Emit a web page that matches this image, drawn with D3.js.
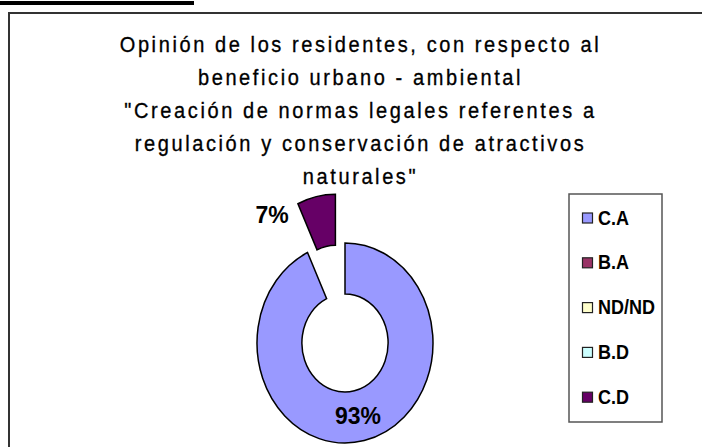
<!DOCTYPE html>
<html>
<head>
<meta charset="utf-8">
<script src="https://cdn.jsdelivr.net/npm/d3@7"></script>
<style>
  body { margin: 0; background: #fff; }
  svg { display: block; }
</style>
</head>
<body>
<svg id="chart" width="702" height="447"></svg>
<script>
// datos
var categorias = ["C.A", "B.A", "ND/ND", "B.D", "C.D"];
var valores = [93, 0, 0, 0, 7];
var colores = ["#9999FF", "#993366", "#FFFFCC", "#CCFFFF", "#660066"];
var titulo = [
    "Opinión de los residentes, con respecto al",
    "beneficio urbano - ambiental",
    "\"Creación de normas legales referentes a",
    "regulación y conservación de atractivos",
    "naturales\""
];
var separado = ["C.D"];

var svg = d3.select("#chart");

// barra negra arriba
svg.append("rect")
    .attr("x", 0).attr("y", 1)
    .attr("width", 194).attr("height", 4)
    .attr("fill", "#000");

// borde del area del grafico
svg.append("rect")
    .attr("x", 9).attr("y", 13)
    .attr("width", 720).attr("height", 460)
    .attr("fill", "none")
    .attr("stroke", "#333")
    .attr("stroke-width", 2);

// titulo (un poco estirado en vertical como el original)
var tit = svg.append("g").attr("font-family", "Liberation Sans, Arial, sans-serif")
    .attr("font-size", "20px")
    .attr("fill", "#000")
    .attr("stroke", "#000")
    .attr("stroke-width", 0.3);
titulo.forEach(function(t, i){
    tit.append("text")
        .attr("transform", "translate(360.5," + (52 + i * 33) + ") scale(1,1.1)")
        .attr("text-anchor", "middle")
        .style("letter-spacing", "2.6px")
        .text(t);
});

// dona
var cx = 345, cy = 343, sx = 0.88, R = 100;
var pie = d3.pie().sort(null).value(function(d){ return d.v; });
var datos = categorias.map(function(c, i){ return {c: c, v: valores[i], col: colores[i]}; });
var arcos = pie(datos);
var arc = d3.arc().innerRadius(R * 0.49).outerRadius(R);
var explota = 50;

var g = svg.append("g")
    .attr("transform", "translate(" + cx + "," + cy + ") scale(" + sx + ",1)");

g.selectAll("path")
    .data(arcos.filter(function(d){ return d.data.v > 0; }))
    .enter().append("path")
    .attr("d", arc)
    .attr("fill", function(d){ return d.data.col; })
    .attr("stroke", "#000")
    .attr("stroke-width", 1.5)
    .attr("vector-effect", "non-scaling-stroke")
    .attr("transform", function(d){
        if (separado.indexOf(d.data.c) < 0) return null;
        var a = (d.startAngle + d.endAngle) / 2;
        return "translate(" + (Math.sin(a) * explota) + "," + (-Math.cos(a) * explota) + ")";
    });

// etiquetas de porcentaje
var total = d3.sum(valores);
var pos = {"C.A": [358 - cx, 424 - cy], "C.D": [272 - cx, 223 - cy]};
arcos.filter(function(d){ return d.data.v > 0; }).forEach(function(d){
    var p = pos[d.data.c];
    svg.append("text")
        .attr("transform", "translate(" + (cx + p[0]) + "," + (cy + p[1]) + ") scale(1,1.08)")
        .attr("text-anchor", "middle")
        .attr("font-family", "Liberation Sans, Arial, sans-serif")
        .attr("font-size", "23px")
        .attr("font-weight", "bold")
        .text(Math.round(d.data.v / total * 100) + "%");
});

// leyenda
svg.append("rect")
    .attr("x", 569).attr("y", 194)
    .attr("width", 93).attr("height", 228)
    .attr("fill", "#fff")
    .attr("stroke", "#555")
    .attr("stroke-width", 1.5);

var ley = svg.append("g");
categorias.forEach(function(c, i){
    var y = 218 + i * 44.8;
    ley.append("rect")
        .attr("x", 582.5).attr("y", y - 5)
        .attr("width", 10).attr("height", 10)
        .attr("fill", colores[i])
        .attr("stroke", "#222")
        .attr("stroke-width", 1.2);
    ley.append("text")
        .attr("transform", "translate(598," + (y + 6.5) + ") scale(1,1.08)")
        .attr("font-family", "Liberation Sans, Arial, sans-serif")
        .attr("font-size", "18px")
        .attr("font-weight", "bold")
        .text(c);
});
</script>
</body>
</html>
